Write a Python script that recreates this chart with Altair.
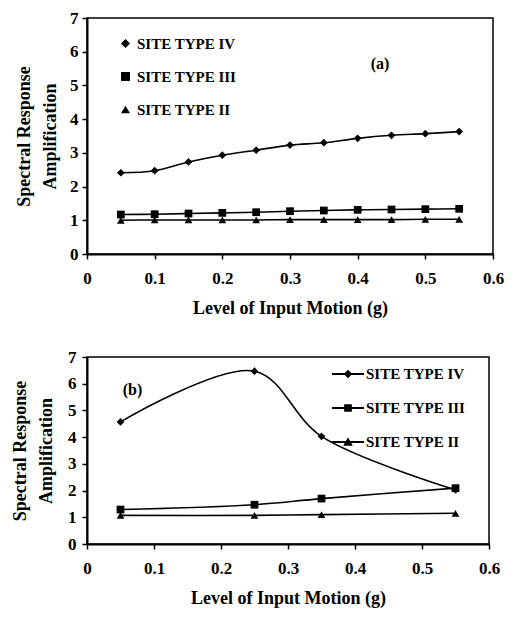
import altair as alt
import pandas as pd

series_names = ["SITE TYPE IV", "SITE TYPE III", "SITE TYPE II"]

# Panel (a)
xa = [0.05, 0.10, 0.15, 0.20, 0.25, 0.30, 0.35, 0.40, 0.45, 0.50, 0.55]
a_iv = [2.41, 2.47, 2.73, 2.93, 3.08, 3.23, 3.30, 3.43, 3.52, 3.57, 3.63]
a_iii = [1.17, 1.18, 1.20, 1.22, 1.24, 1.27, 1.29, 1.31, 1.32, 1.33, 1.34]
a_ii = [1.00, 1.01, 1.01, 1.01, 1.01, 1.02, 1.02, 1.02, 1.02, 1.03, 1.03]

# Panel (b)
xb = [0.05, 0.25, 0.35, 0.55]
b_iv = [4.57, 6.47, 4.03, 2.03]
b_iii = [1.29, 1.47, 1.70, 2.09]
b_ii = [1.07, 1.07, 1.10, 1.15]

x_ticks = [0, 0.1, 0.2, 0.3, 0.4, 0.5, 0.6]
y_ticks = [0, 1, 2, 3, 4, 5, 6, 7]

FONT = "Liberation Serif"


def make_df(xs, ys_list):
    rows = []
    for name, ys in zip(series_names, ys_list):
        for x, y in zip(xs, ys):
            rows.append({"x": x, "y": y, "series": name})
    return pd.DataFrame(rows)


dfa = make_df(xa, [a_iv, a_iii, a_ii])
dfb = make_df(xb, [b_iv, b_iii, b_ii])

x_scale = alt.Scale(domain=[0, 0.6], nice=False, zero=False)
y_scale = alt.Scale(domain=[0, 7], nice=False)

shape_std = alt.Scale(domain=series_names, range=["diamond", "square", "triangle-up"])


def encodings(y_label_pad, y_title_pad):
    x_axis = alt.Axis(values=x_ticks, format=".1~f", title="Level of Input Motion (g)",
                      grid=False, labelFlush=False, labelOverlap=False, titlePadding=13,
                      labelPadding=11)
    y_axis = alt.Axis(values=y_ticks, format="d", title=["Spectral Response", "Amplification"],
                      grid=False, labelOverlap=False, titlePadding=y_title_pad,
                      labelPadding=y_label_pad)
    return (alt.X("x:Q", scale=x_scale, axis=x_axis),
            alt.Y("y:Q", scale=y_scale, axis=y_axis))


def base_layers(df, X, Y, label_text, label_x, label_y, legend):
    base = alt.Chart(df)
    line = base.mark_line(color="black", strokeWidth=1.6, interpolate="catmull-rom").encode(
        x=X, y=Y, detail="series:N",
    )
    pts = base.mark_point(filled=True, color="black", size=60, opacity=1).encode(
        x=X, y=Y,
        shape=alt.Shape("series:N", scale=shape_std, legend=legend),
    )
    lab = alt.Chart(pd.DataFrame({"x": [label_x], "y": [label_y], "t": [label_text]})).mark_text(
        font=FONT, fontWeight="bold", fontSize=16, color="black"
    ).encode(x=X, y=Y, text="t:N")
    return line, pts, lab


legend_a = alt.Legend(
    title=None, orient="none", legendX=31, legendY=18, padding=0,
    labelFont=FONT, labelFontWeight="bold", labelFontSize=15, labelColor="black",
    symbolSize=80, symbolFillColor="black", symbolStrokeColor="black",
    rowPadding=17, labelOffset=4, values=series_names,
)

Xa, Ya = encodings(4, 10)
la, pa, ta = base_layers(dfa, Xa, Ya, "(a)", 0.433, 5.65, legend_a)
chart_a = alt.layer(la, pa, ta).properties(width=406, height=236)

# Panel (b) legend with line+marker symbols (filled paths)
path_shapes = [
    "M-1,-0.06H1V0.06H-1Z M0,-0.26L0.26,0L0,0.26L-0.26,0Z",
    "M-1,-0.06H1V0.06H-1Z M-0.24,-0.24H0.24V0.24H-0.24Z",
    "M-1,-0.06H1V0.06H-1Z M0,-0.3L0.3,0.24H-0.3Z",
]
legend_b = alt.Legend(
    title=None, orient="none", legendX=245, legendY=1, padding=0,
    labelFont=FONT, labelFontWeight="bold", labelFontSize=15, labelColor="black",
    symbolSize=1024, symbolFillColor="black", symbolStrokeColor="black",
    symbolStrokeWidth=0, symbolOpacity=1, rowPadding=10, labelOffset=2,
    values=series_names,
)
Xb, Yb = encodings(6, 12)
lb, pb, tb = base_layers(dfb, Xb, Yb, "(b)", 0.068, 5.78, None)
leg_layer = alt.Chart(dfb).mark_point(filled=True, color="black", size=1, opacity=0).encode(
    x=Xb, y=Yb,
    shape=alt.Shape("series:N",
                    scale=alt.Scale(domain=series_names, range=path_shapes),
                    legend=legend_b),
)
chart_b = alt.layer(lb, pb, tb, leg_layer).resolve_scale(shape="independent").properties(
    width=402, height=187
)

chart = alt.concat(chart_a, chart_b, columns=1, spacing=29, align="none").properties(
    padding={"top": 0, "left": 2, "right": 0, "bottom": 0}
).configure_view(
    stroke="black", strokeWidth=1.5
).configure_axis(
    labelFont=FONT, labelFontWeight="bold", labelFontSize=17, labelColor="black",
    titleFont=FONT, titleFontWeight="bold", titleFontSize=18, titleColor="black",
    titleLineHeight=26, labelOverlap=False,
    domainColor="black", domainWidth=2, tickColor="black", tickWidth=1.5, tickSize=5,
)

chart.save("out.html", embed_options={"renderer": "svg", "actions": False})
